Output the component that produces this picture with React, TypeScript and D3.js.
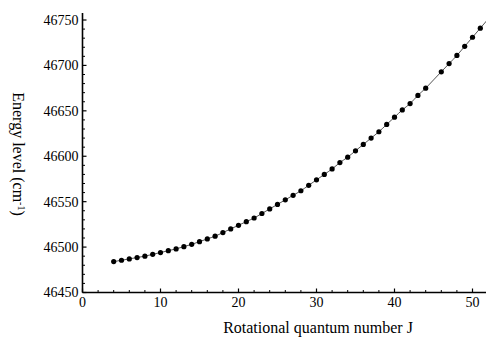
import React from "react";
import * as d3 from "d3";

const pointJ = [4,5,6,7,8,9,10,11,12,13,14,15,16,17,18,19,20,21,22,23,24,25,26,27,28,29,30,31,32,33,34,35,36,37,38,39,40,41,42,43,44,46,47,48,49,50,51];
const pointE = [46484,46485.5,46487,46488.5,46490,46492,46494,46496,46498,46500.5,46503,46506,46509,46512,46516,46520,46524,46528,46532,46537,46542,46547,46552,46557,46562,46568,46574,46580,46586,46593,46599,46606,46613,46620,46627,46635,46643,46651,46658,46667,46675,46693,46702,46711,46721,46731,46741];
const lineJ = [4,5,6,7,8,9,10,11,12,13,14,15,16,17,18,19,20,21,22,23,24,25,26,27,28,29,30,31,32,33,34,35,36,37,38,39,40,41,42,43,44,45,46,47,48,49,50,51,52];
const lineE = [46484,46485.5,46487,46488.5,46490,46492,46494,46496,46498,46500.5,46503,46506,46509,46512,46516,46520,46524,46528,46532,46537,46542,46547,46552,46557,46562,46568,46574,46580,46586,46593,46599,46606,46613,46620,46627,46635,46643,46651,46658,46667,46675,46684,46693,46702,46711,46721,46731,46741,46751];
const xTicks = [0,10,20,30,40,50];
const yTicks = [46450,46500,46550,46600,46650,46700,46750];

const W = 486, H = 337;
const X0 = 82.5, Y0 = 292.5, YTOP = 13;
const font = "'Liberation Serif', 'Times New Roman', serif";

export default function App() {
  const x = d3.scaleLinear().domain([0, 52]).range([X0, X0 + 52 * 7.8]);
  const y = d3.scaleLinear().domain([46450, 46750]).range([Y0, 20]);
  const line = d3.line<number>().x((_, i) => x(lineJ[i])).y((d) => y(d)).curve(d3.curveMonotoneX);
  const xMinor = d3.range(0, 53, 2).filter((v) => v % 10 !== 0);
  const yMinor = d3.range(46450, 46760, 10).filter((v) => v % 50 !== 0);
  return (
    <svg width={W} height={H} style={{ position: "absolute", left: 0, top: 0, background: "#fff" }}>
      <path d={line(lineE) || ""} fill="none" stroke="#555" strokeWidth={1} />
      {pointJ.map((j, i) => (
        <circle key={j} cx={x(j)} cy={y(pointE[i])} r={2.6} fill="#000" />
      ))}
      <line x1={X0} x2={W} y1={Y0} y2={Y0} stroke="#000" strokeWidth={1.6} />
      <line x1={X0} x2={X0} y1={Y0} y2={YTOP} stroke="#000" strokeWidth={1.6} />
      {xTicks.map((t) => (
        <g key={"xt" + t}>
          <line x1={x(t)} x2={x(t)} y1={Y0} y2={Y0 - 4} stroke="#000" strokeWidth={1.2} />
          <text x={x(t)} y={Y0 + 14} textAnchor="middle" fontFamily={font} fontSize={14}>{t}</text>
        </g>
      ))}
      {xMinor.map((t) => (
        <line key={"xm" + t} x1={x(t)} x2={x(t)} y1={Y0} y2={Y0 - 2.5} stroke="#000" strokeWidth={1} />
      ))}
      {yTicks.map((t) => (
        <g key={"yt" + t}>
          <line x1={X0} x2={X0 + 4} y1={y(t)} y2={y(t)} stroke="#000" strokeWidth={1.2} />
          <text x={X0 - 4} y={y(t)} dy="0.35em" textAnchor="end" fontFamily={font} fontSize={14}>{t}</text>
        </g>
      ))}
      {yMinor.map((t) => (
        <line key={"ym" + t} x1={X0} x2={X0 + 2.5} y1={y(t)} y2={y(t)} stroke="#000" strokeWidth={1} />
      ))}
      <text x={318} y={333} textAnchor="middle" fontFamily={font} fontSize={16}>Rotational quantum number J</text>
      <text transform="translate(13,154) rotate(90)" textAnchor="middle" fontFamily={font} fontSize={16}>
        Energy level (cm<tspan baseline-shift="super" fontSize={10}>-1</tspan>)
      </text>
    </svg>
  );
}
